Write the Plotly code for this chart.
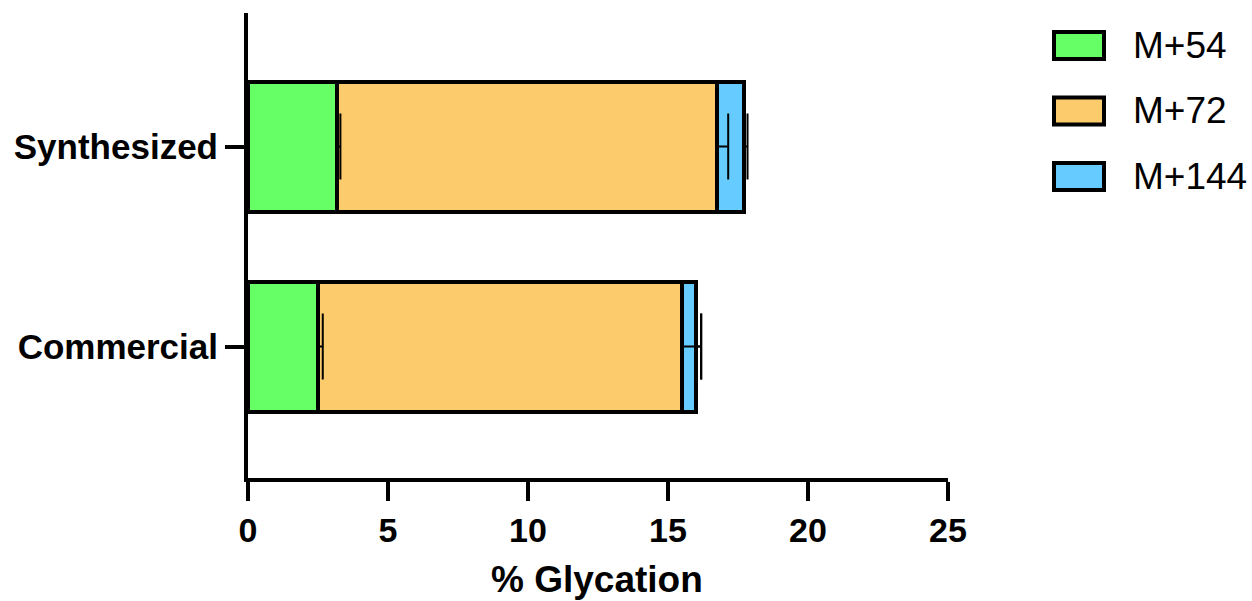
import plotly.graph_objects as go
import numpy as np

# Stacked glycation fractions (% of total) per sample source
categories = ["Commercial", "Synthesized"]
series_names = ["M+54", "M+72", "M+144"]
m54 = [2.50, 3.18]
m72 = [13.01, 13.57]
m144 = [0.50, 0.96]
m54_err = [0.17, 0.12]
m72_err = [0.68, 0.40]
m144_err = [0.17, 0.13]
x_ticks = [0, 5, 10, 15, 20, 25]
x_title = "% Glycation"

colors = ["#66FF66", "#FCCB6C", "#66CCFF"]
values = [m54, m72, m144]
errors = [m54_err, m72_err, m144_err]

W, H = 1252, 601
ML, MR, MT, MB = 248, 304, 13, 123
PW, PH = W - ML - MR, H - MT - MB

fig = go.Figure()

for name, vals, col in zip(series_names, values, colors):
    fig.add_trace(go.Bar(
        y=categories, x=vals, name=name, orientation="h",
        marker=dict(color=col, line=dict(color="black", width=4)),
        width=0.65, showlegend=False,
    ))

# one-sided error bars drawn at the end of each stacked segment
cum = np.cumsum(np.array(values), axis=0)
for ends, err in zip(cum, errors):
    fig.add_trace(go.Scatter(
        y=categories, x=ends, mode="markers",
        marker=dict(size=1, color="rgba(0,0,0,0)"),
        error_x=dict(type="data", symmetric=False, array=err,
                     arrayminus=[0] * len(err), color="black",
                     thickness=2, width=33),
        showlegend=False, hoverinfo="skip",
    ))

# helpers converting pixel positions to paper coordinates
def px_x(p):
    return (p - ML) / PW

def px_y(p):
    return (H - MB - p) / PH

# legend: swatches and labels beside the plot area
legend_rows = [45.5, 111, 176.5]
for name, col, cy in zip(series_names, colors, legend_rows):
    fig.add_shape(type="rect", xref="paper", yref="paper",
                  x0=px_x(1054), x1=px_x(1104),
                  y0=px_y(cy + 13.5), y1=px_y(cy - 13.5),
                  fillcolor=col, line=dict(color="black", width=4))
    fig.add_annotation(xref="paper", yref="paper", x=px_x(1131), y=px_y(cy),
                       text=name, showarrow=False, xanchor="left", yanchor="middle",
                       font=dict(family="Liberation Sans, Arial", size=37, color="black"))

# x-axis title
fig.add_annotation(xref="paper", yref="paper", x=px_x(597), y=px_y(579),
                   text=f"<b>{x_title}</b>", showarrow=False,
                   xanchor="center", yanchor="middle",
                   font=dict(family="Liberation Sans, Arial", size=37, color="black"))

fig.update_layout(
    barmode="stack",
    width=W, height=H,
    margin=dict(l=ML, r=MR, t=MT, b=MB, pad=0, autoexpand=False),
    plot_bgcolor="white", paper_bgcolor="white",
    font=dict(family="Liberation Sans, Arial", color="black"),
)
fig.update_xaxes(
    range=[0, 25], tickvals=x_ticks, ticktext=[str(v) for v in x_ticks],
    showgrid=False, zeroline=False, showline=True, linecolor="black", linewidth=4,
    ticks="outside", ticklen=19, tickwidth=4, tickcolor="black", automargin=False,
    tickfont=dict(family="Liberation Sans, Arial", size=34, weight="bold"),
)
fig.update_yaxes(
    range=[-0.6575, 1.6675], categoryorder="array", categoryarray=categories,
    showgrid=False, zeroline=False, showline=True, linecolor="black", linewidth=4,
    ticks="outside", ticklen=19, tickwidth=4, tickcolor="black", automargin=False,
    tickfont=dict(family="Liberation Sans, Arial", size=35, weight="bold"),
)

fig.write_html("out.html")
